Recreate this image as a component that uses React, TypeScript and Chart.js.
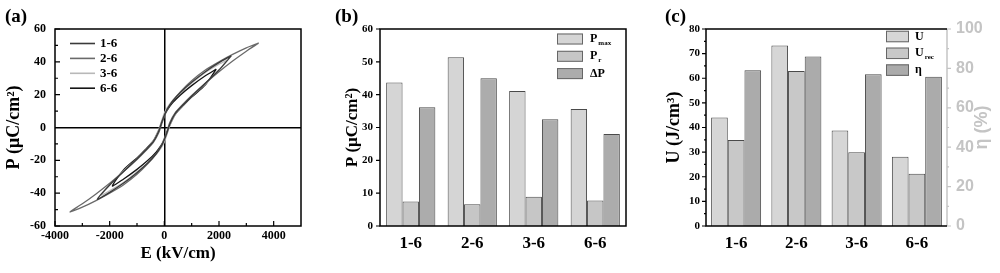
import React, { useEffect, useRef } from 'react';
import { Chart, registerables } from 'chart.js';

Chart.register(...registerables);

const SERIF = '"Liberation Serif", "Times New Roman", serif';
const SANS = '"Liberation Sans", Arial, sans-serif';

// ---------- Panel (a): P-E loops ----------
const loopLabels = ['1-6', '2-6', '3-6', '6-6'];
const loopColors = ['#3a3a3a', '#6a6a6a', '#b8b8b8', '#151515'];
const aXTicks = [-4000, -2000, 0, 2000, 4000];
const aYTicks = [-60, -40, -20, 0, 20, 40, 60];

const loop16: [number, number][] = [
  [2450, 43.7], [2000, 39.5], [1500, 34], [1000, 27.5], [600, 21.5], [300, 16], [100, 11], [0, 7.4],
  [-100, 3], [-200, -2], [-400, -8.5], [-700, -14], [-1000, -19], [-1500, -27], [-2000, -35],
  [-2450, -43.7], [-2000, -39.5], [-1500, -34], [-1000, -27.5], [-600, -21.5], [-300, -16], [-100, -11], [0, -7.4],
  [100, -3], [200, 2], [400, 8.5], [700, 14], [1000, 19], [1500, 27], [2000, 35], [2450, 43.7],
];
const loop26: [number, number][] = [
  [3450, 51.4], [3000, 48.5], [2500, 44.5], [2000, 40], [1500, 35], [1000, 28.5], [600, 22], [300, 16], [100, 10.5], [0, 6.5],
  [-100, 2], [-200, -3], [-400, -9], [-700, -14.5], [-1000, -19.5], [-1500, -27], [-2000, -34], [-2500, -40.5], [-3000, -46.5],
  [-3450, -51.4], [-3000, -48.5], [-2500, -44.5], [-2000, -40], [-1500, -35], [-1000, -28.5], [-600, -22], [-300, -16], [-100, -10.5], [0, -6.5],
  [100, -2], [200, 3], [400, 9], [700, 14.5], [1000, 19.5], [1500, 27], [2000, 34], [2500, 40.5], [3000, 46.5], [3450, 51.4],
];
const loop36: [number, number][] = [
  [2300, 41.1], [2000, 38.5], [1500, 33.5], [1000, 27], [600, 21.5], [300, 16.5], [100, 12], [0, 8.8],
  [-100, 4], [-200, -1], [-400, -8], [-700, -14], [-1000, -19], [-1500, -26.5], [-2000, -35],
  [-2300, -41.1], [-2000, -38.5], [-1500, -33.5], [-1000, -27], [-600, -21.5], [-300, -16.5], [-100, -12], [0, -8.8],
  [100, -4], [200, 1], [400, 8], [700, 14], [1000, 19], [1500, 26.5], [2000, 35], [2300, 41.1],
];
const loop66: [number, number][] = [
  [1900, 35.6], [1500, 31.5], [1000, 25.5], [600, 20], [300, 15], [100, 10.5], [0, 7.6],
  [-100, 3], [-200, -1.5], [-400, -8], [-700, -13.5], [-1000, -18.5], [-1500, -26],
  [-1900, -35.6], [-1500, -31.5], [-1000, -25.5], [-600, -20], [-300, -15], [-100, -10.5], [0, -7.6],
  [100, -3], [200, 1.5], [400, 8], [700, 13.5], [1000, 18.5], [1500, 26], [1900, 35.6],
];
const loops = [loop16, loop26, loop36, loop66];

// ---------- Panel (b) ----------
const barCats = ['1-6', '2-6', '3-6', '6-6'];
const pMax = [43.7, 51.4, 41.1, 35.6];
const pR = [7.5, 6.6, 8.9, 7.8];
const deltaP = [36.2, 45.0, 32.5, 28.0];
const legendB: [string, string][] = [['P', 'max'], ['P', 'r'], ['ΔP', '']];
const colorsB = ['#d5d5d5', '#c6c6c6', '#acacac'];

// ---------- Panel (c) ----------
const uTotal = [44.1, 73.3, 38.8, 28.1];
const uRec = [34.9, 62.9, 30.0, 21.2];
const eta = [79.0, 86.1, 77.0, 75.8];
const legendC: [string, string][] = [['U', ''], ['U', 'rec'], ['η', '']];
const colorsC = ['#d6d6d6', '#c8c8c8', '#ababab'];

const BAR_BORDER = '#4a4a4a';
const RIGHT_GRAY = '#c4c4c4';

function drawYTicks(ctx: CanvasRenderingContext2D, scale: any, x: number, dir: number, major: number, minor: number, color: string, withMinor: boolean) {
  const vals: number[] = scale.ticks.map((t: any) => t.value);
  ctx.save();
  ctx.strokeStyle = color;
  ctx.lineWidth = 1.2;
  ctx.beginPath();
  vals.forEach((v) => {
    const y = scale.getPixelForValue(v);
    ctx.moveTo(x, y);
    ctx.lineTo(x + dir * major, y);
  });
  if (withMinor) {
    for (let i = 0; i < vals.length - 1; i++) {
      const y = scale.getPixelForValue((vals[i] + vals[i + 1]) / 2);
      ctx.moveTo(x, y);
      ctx.lineTo(x + dir * minor, y);
    }
  }
  ctx.stroke();
  ctx.restore();
}

function drawXTicks(ctx: CanvasRenderingContext2D, scale: any, y: number, dir: number, major: number, minor: number, color: string, withMinor: boolean) {
  const vals: number[] = scale.ticks.map((t: any) => t.value);
  ctx.save();
  ctx.strokeStyle = color;
  ctx.lineWidth = 1.2;
  ctx.beginPath();
  vals.forEach((v) => {
    const x = scale.getPixelForValue(v);
    ctx.moveTo(x, y);
    ctx.lineTo(x, y + dir * major);
  });
  if (withMinor) {
    for (let i = 0; i < vals.length - 1; i++) {
      const x = scale.getPixelForValue((vals[i] + vals[i + 1]) / 2);
      ctx.moveTo(x, y);
      ctx.lineTo(x, y + dir * minor);
    }
  }
  ctx.stroke();
  ctx.restore();
}

function drawPanelLabel(ctx: CanvasRenderingContext2D, text: string) {
  ctx.save();
  ctx.fillStyle = '#000';
  ctx.font = `bold 19px ${SERIF}`;
  ctx.textBaseline = 'alphabetic';
  ctx.textAlign = 'left';
  ctx.fillText(text, 5, 22);
  ctx.restore();
}

function drawSubText(ctx: CanvasRenderingContext2D, x: number, y: number, main: string, sub: string, size: number) {
  ctx.fillStyle = '#000';
  ctx.textAlign = 'left';
  ctx.textBaseline = 'middle';
  ctx.font = `bold ${size}px ${SERIF}`;
  ctx.fillText(main, x, y);
  if (sub) {
    const w = ctx.measureText(main).width;
    ctx.font = `bold ${Math.round(size * 0.62)}px ${SERIF}`;
    ctx.fillText(sub, x + w + 1, y + size * 0.32);
  }
}

function drawBoxLegend(ctx: CanvasRenderingContext2D, items: [string, string][], colors: string[], boxX: number, boxW: number, boxH: number, y0: number, dy: number, textX: number) {
  ctx.save();
  items.forEach((it, i) => {
    const yc = y0 + i * dy;
    ctx.fillStyle = colors[i];
    ctx.fillRect(boxX, yc - boxH / 2, boxW, boxH);
    ctx.strokeStyle = '#666';
    ctx.lineWidth = 1;
    ctx.strokeRect(boxX + 0.5, yc - boxH / 2 + 0.5, boxW - 1, boxH - 1);
    drawSubText(ctx, textX, yc, it[0], it[1], 12);
  });
  ctx.restore();
}

const tickFont = (size: number) => ({ family: SERIF, size, weight: 'bold' as const });
const zeroLine = (c: any) => (c.tick && c.tick.value === 0 ? '#000' : 'rgba(0,0,0,0)');

function makeConfigA(): any {
  return {
    type: 'line',
    data: {
      datasets: loops.map((pts, i) => ({
        label: loopLabels[i],
        data: pts.map(([x, y]) => ({ x, y })),
        borderColor: loopColors[i],
        borderWidth: 1.3,
        pointRadius: 0,
        tension: 0.25,
        fill: false,
      })),
    },
    options: {
      responsive: false,
      animation: false,
      devicePixelRatio: 1,
      layout: { padding: { top: 29, right: 29, left: 0, bottom: 0 } },
      plugins: { legend: { display: false }, tooltip: { enabled: false } },
      scales: {
        x: {
          type: 'linear',
          min: -4000,
          max: 5000,
          afterBuildTicks: (s: any) => { s.ticks = aXTicks.map((v) => ({ value: v })); },
          ticks: { font: tickFont(12), color: '#000', padding: 3, maxRotation: 0, autoSkip: false, callback: (v: any) => String(v) },
          grid: { display: true, drawTicks: false, lineWidth: 1.5, color: zeroLine },
          border: { display: false },
          title: { display: true, text: 'E (kV/cm)', font: tickFont(17), color: '#000', padding: { top: 0, bottom: 9 } },
          afterFit: (s: any) => { s.height = 47; },
        },
        y: {
          type: 'linear',
          min: -60,
          max: 60,
          afterBuildTicks: (s: any) => { s.ticks = aYTicks.map((v) => ({ value: v })); },
          ticks: { font: tickFont(12), color: '#000', padding: 9, autoSkip: false, callback: (v: any) => String(v) },
          grid: { display: true, drawTicks: false, lineWidth: 1.5, color: zeroLine },
          border: { display: false },
          title: { display: true, text: 'P (μC/cm²)', font: tickFont(18), color: '#000', padding: { top: 4, bottom: 0 } },
          afterFit: (s: any) => { s.width = 55; },
        },
      },
    },
    plugins: [
      {
        id: 'decorA',
        afterDraw(chart: any) {
          const ctx: CanvasRenderingContext2D = chart.ctx;
          const ca = chart.chartArea;
          ctx.save();
          ctx.strokeStyle = '#000';
          ctx.lineWidth = 1.5;
          ctx.strokeRect(ca.left, ca.top, ca.right - ca.left, ca.bottom - ca.top);
          ctx.restore();
          drawYTicks(ctx, chart.scales.y, ca.left, 1, 5, 3, '#000', true);
          drawXTicks(ctx, chart.scales.x, ca.bottom, -1, 5, 3, '#000', true);
          ctx.save();
          chart.data.datasets.forEach((ds: any, i: number) => {
            const y = 43.5 + i * 14.9;
            ctx.strokeStyle = ds.borderColor;
            ctx.lineWidth = 1.6;
            ctx.beginPath();
            ctx.moveTo(70, y);
            ctx.lineTo(95, y);
            ctx.stroke();
            ctx.fillStyle = '#000';
            ctx.font = `bold 13px ${SERIF}`;
            ctx.textBaseline = 'middle';
            ctx.textAlign = 'left';
            ctx.fillText(ds.label, 100, y);
          });
          ctx.restore();
          drawPanelLabel(ctx, '(a)');
        },
      },
    ],
  };
}

function makeConfigB(): any {
  const series = [pMax, pR, deltaP];
  return {
    type: 'bar',
    data: {
      labels: barCats,
      datasets: series.map((d, i) => ({
        label: legendB[i].join(''),
        data: d,
        backgroundColor: colorsB[i],
        borderColor: BAR_BORDER,
        borderWidth: 1,
      })),
    },
    options: {
      responsive: false,
      animation: false,
      devicePixelRatio: 1,
      layout: { padding: { top: 29, right: 34, left: 0, bottom: 0 } },
      plugins: { legend: { display: false }, tooltip: { enabled: false } },
      datasets: { bar: { categoryPercentage: 0.8, barPercentage: 1 } },
      scales: {
        x: {
          ticks: { font: tickFont(17), color: '#000', padding: 7 },
          grid: { display: false, drawTicks: false },
          border: { display: false },
          afterFit: (s: any) => { s.height = 47; },
        },
        y: {
          min: 0,
          max: 60,
          ticks: { stepSize: 10, font: tickFont(11), color: '#000', padding: 7 },
          grid: { display: false, drawTicks: false },
          border: { display: false },
          title: { display: true, text: 'P (μC/cm²)', font: tickFont(17), color: '#000', padding: { top: 12, bottom: 0 } },
          afterFit: (s: any) => { s.width = 50; },
        },
      },
    },
    plugins: [
      {
        id: 'decorB',
        afterDraw(chart: any) {
          const ctx: CanvasRenderingContext2D = chart.ctx;
          const ca = chart.chartArea;
          ctx.save();
          ctx.strokeStyle = '#000';
          ctx.lineWidth = 1.5;
          ctx.strokeRect(ca.left, ca.top, ca.right - ca.left, ca.bottom - ca.top);
          ctx.restore();
          drawYTicks(ctx, chart.scales.y, ca.left, -1, 4, 2, '#000', false);
          drawBoxLegend(ctx, legendB, colorsB, 227, 26, 11, 39, 17.3, 260);
          drawPanelLabel(ctx, '(b)');
        },
      },
    ],
  };
}

function makeConfigC(): any {
  const series = [uTotal, uRec, eta];
  return {
    type: 'bar',
    data: {
      labels: barCats,
      datasets: series.map((d, i) => ({
        label: legendC[i].join(''),
        data: d,
        yAxisID: i === 2 ? 'y1' : 'y',
        backgroundColor: colorsC[i],
        borderColor: BAR_BORDER,
        borderWidth: 1,
      })),
    },
    options: {
      responsive: false,
      animation: false,
      devicePixelRatio: 1,
      layout: { padding: { top: 29, right: 0, left: 0, bottom: 0 } },
      plugins: { legend: { display: false }, tooltip: { enabled: false } },
      datasets: { bar: { categoryPercentage: 0.83, barPercentage: 1 } },
      scales: {
        x: {
          ticks: { font: tickFont(17), color: '#000', padding: 7 },
          grid: { display: false, drawTicks: false },
          border: { display: false },
          afterFit: (s: any) => { s.height = 47; },
        },
        y: {
          position: 'left',
          min: 0,
          max: 80,
          ticks: { stepSize: 10, font: tickFont(11), color: '#000', padding: 6 },
          grid: { display: false, drawTicks: false },
          border: { display: false },
          title: { display: true, text: 'U (J/cm³)', font: tickFont(18), color: '#000', padding: { top: 4, bottom: 0 } },
          afterFit: (s: any) => { s.width = 46; },
        },
        y1: {
          position: 'right',
          min: 0,
          max: 100,
          ticks: { stepSize: 20, font: { family: SANS, size: 16, weight: 'bold' }, color: RIGHT_GRAY, padding: 9 },
          grid: { display: false, drawTicks: false },
          border: { display: false },
          afterFit: (s: any) => { s.width = 53; },
        },
      },
    },
    plugins: [
      {
        id: 'decorC',
        afterDraw(chart: any) {
          const ctx: CanvasRenderingContext2D = chart.ctx;
          const ca = chart.chartArea;
          ctx.save();
          ctx.lineWidth = 1.5;
          ctx.strokeStyle = RIGHT_GRAY;
          ctx.beginPath();
          ctx.moveTo(ca.right, ca.top);
          ctx.lineTo(ca.right, ca.bottom);
          ctx.stroke();
          ctx.strokeStyle = '#000';
          ctx.beginPath();
          ctx.moveTo(ca.right, ca.top);
          ctx.lineTo(ca.left, ca.top);
          ctx.lineTo(ca.left, ca.bottom);
          ctx.lineTo(ca.right, ca.bottom);
          ctx.stroke();
          ctx.restore();
          drawYTicks(ctx, chart.scales.y, ca.left, -1, 4, 2, '#000', true);
          drawYTicks(ctx, chart.scales.y1, ca.right, 1, 4, 2, RIGHT_GRAY, true);
          drawBoxLegend(ctx, legendC, colorsC, 226, 23, 11.5, 36.5, 16.8, 255);
          ctx.save();
          ctx.translate(322, (ca.top + ca.bottom) / 2);
          ctx.rotate(-Math.PI / 2);
          ctx.fillStyle = RIGHT_GRAY;
          ctx.font = `bold 18px ${SANS}`;
          ctx.textAlign = 'center';
          ctx.textBaseline = 'middle';
          ctx.fillText('η (%)', 0, 0);
          ctx.restore();
          drawPanelLabel(ctx, '(c)');
        },
      },
    ],
  };
}

function ChartPanel({ left, width, make }: { left: number; width: number; make: () => any }) {
  const ref = useRef<HTMLCanvasElement>(null);
  useEffect(() => {
    const chart = new Chart(ref.current as HTMLCanvasElement, make());
    return () => chart.destroy();
  }, []);
  return (
    <canvas
      ref={ref}
      width={width}
      height={273}
      style={{ position: 'absolute', left, top: 0, width, height: 273, display: 'block' }}
    />
  );
}

export default function App() {
  return (
    <div style={{ position: 'absolute', left: 0, top: 0, width: 1000, height: 273, background: '#fff', overflow: 'hidden' }}>
      <ChartPanel left={0} width={330} make={makeConfigA} />
      <ChartPanel left={330} width={330} make={makeConfigB} />
      <ChartPanel left={660} width={340} make={makeConfigC} />
    </div>
  );
}
